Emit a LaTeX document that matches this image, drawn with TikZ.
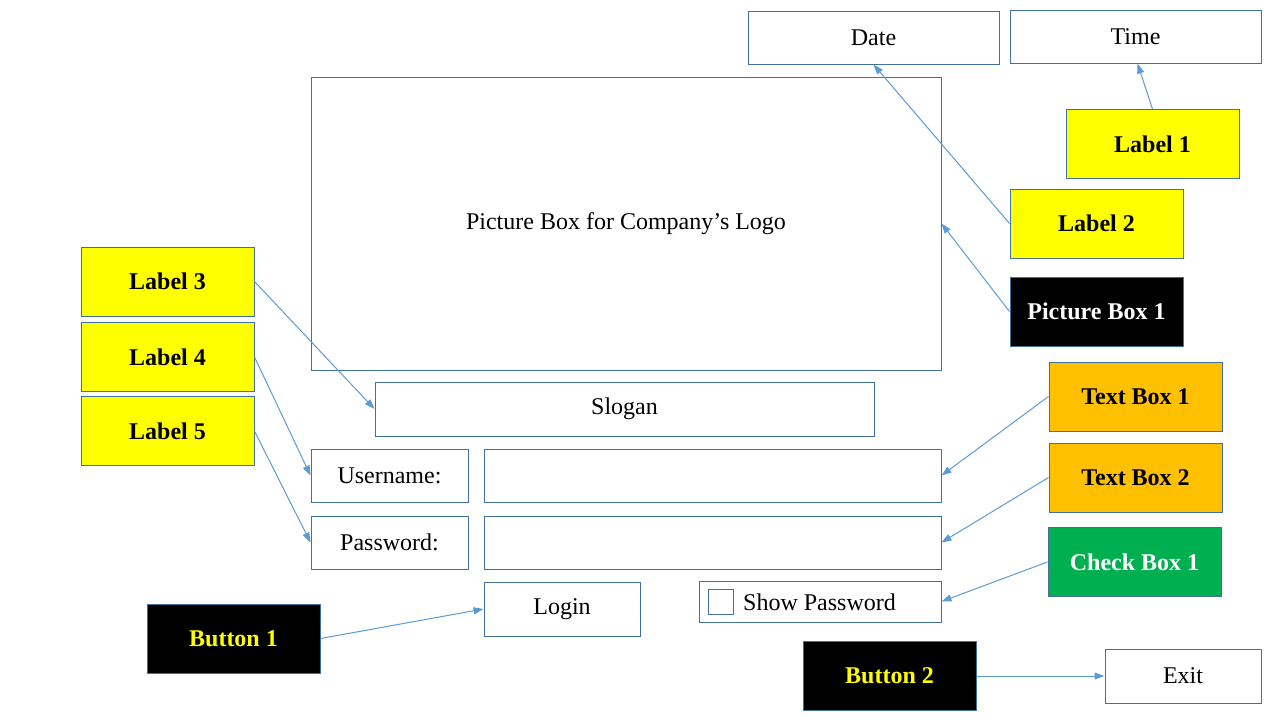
\documentclass[tikz,border=0pt]{standalone}
\usepackage{fontspec}
\setmainfont{Liberation Serif}
\usetikzlibrary{arrows.meta}
\definecolor{bord}{HTML}{41719C}
\definecolor{arr}{HTML}{5B9BD5}
\definecolor{ylw}{HTML}{FFFF00}
\definecolor{org}{HTML}{FFC000}
\definecolor{grn}{HTML}{00B050}
\tikzset{
  ui/.style={draw=bord, line width=1pt, fill=white, inner sep=0pt, font=\fontsize{24}{28}\selectfont},
  tag/.style={draw=bord, line width=1pt, inner sep=0pt, minimum width=173pt, minimum height=69pt, font=\fontsize{24}{28}\selectfont\bfseries},
  ylwtag/.style={tag, fill=ylw, text=black},
  orgtag/.style={tag, fill=org, text=black},
  blktag/.style={tag, fill=black, text=white},
  btntag/.style={tag, fill=black, text=ylw},
  grntag/.style={tag, fill=grn, text=white},
  link/.style={draw=arr, line width=1pt, -{Triangle[length=10pt,width=7pt]}}
}
\begin{document}
\begin{tikzpicture}[x=1pt,y=-1pt]
\useasboundingbox (0,0) rectangle (1280,720);
% UI elements
\node[ui, minimum width=251pt, minimum height=53pt] (date) at (873.5,37.5) {Date};
\node[ui, minimum width=251pt, minimum height=53pt] (time) at (1135.5,36.5) {Time};
\node[ui, minimum width=630pt, minimum height=293pt] (logo) at (626,223.5) {Picture Box for Company’s Logo};
\node[ui, minimum width=499pt, minimum height=54pt] (slogan) at (624.5,409) {Slogan};
\node[ui, minimum width=157pt, minimum height=53pt] (user) at (389.5,475.5) {Username:};
\node[ui, minimum width=457pt, minimum height=53pt] (userf) at (712.5,475.5) {};
\node[ui, minimum width=157pt, minimum height=53pt] (pass) at (389.5,542.5) {Password:};
\node[ui, minimum width=457pt, minimum height=53pt] (passf) at (712.5,542.5) {};
\node[ui, minimum width=156pt, minimum height=54pt] (login) at (562,609) {Login};
\node[ui, minimum width=242pt, minimum height=41pt] (showpw) at (820,601.5) {};
\node[draw=bord, line width=1pt, inner sep=0pt, minimum width=25pt, minimum height=25pt] (chk) at (720.5,601.5) {};
\node[anchor=west, inner sep=0pt, font=\fontsize{24}{28}\selectfont] (showtxt) at (743,602) {Show Password};
\node[ui, minimum width=156pt, minimum height=54pt] (exit) at (1183,676) {Exit};
% tags
\node[ylwtag] (lab1) at (1152.5,144) {Label 1};
\node[ylwtag] (lab2) at (1096.5,223.5) {Label 2};
\node[blktag] (pic1) at (1096.5,311.5) {Picture Box 1};
\node[ylwtag] (lab3) at (167.5,281.5) {Label 3};
\node[ylwtag] (lab4) at (167.5,357) {Label 4};
\node[ylwtag] (lab5) at (167.5,431) {Label 5};
\node[orgtag] (tb1) at (1135.5,396.5) {Text Box 1};
\node[orgtag] (tb2) at (1135.5,477.5) {Text Box 2};
\node[grntag] (cb1) at (1134.5,562) {Check Box 1};
\node[btntag] (btn1) at (233.5,638.5) {Button 1};
\node[btntag] (btn2) at (889.5,676) {Button 2};
% connectors
\draw[link] (lab1.north) -- ([xshift=2pt]time.south);
\draw[link] (lab2.west) -- (date.south);
\draw[link] (pic1.west) -- (logo.east);
\draw[link] (lab3.east) -- (slogan.west);
\draw[link] (lab4.east) -- (user.west);
\draw[link] (lab5.east) -- (pass.west);
\draw[link] (tb1.west) -- (userf.east);
\draw[link] (tb2.west) -- (passf.east);
\draw[link] (cb1.west) -- (showpw.east);
\draw[link] (btn1.east) -- (login.west);
\draw[link] (btn2.east) -- (exit.west);
\end{tikzpicture}
\end{document}
